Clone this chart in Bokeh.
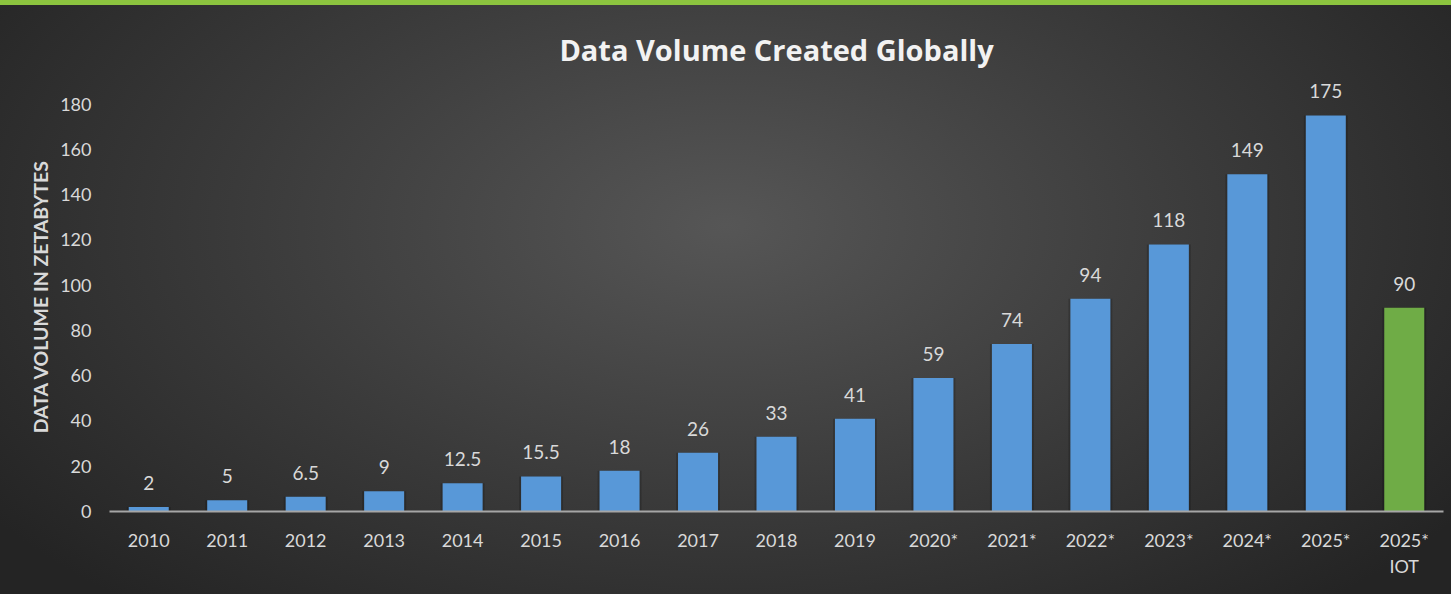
from bokeh.plotting import figure
from bokeh.models import ColumnDataSource, FixedTicker, Range1d, LabelSet
from bokeh.core.properties import value
from bokeh.embed import file_html
from bokeh.resources import INLINE

categories = ["2010", "2011", "2012", "2013", "2014", "2015", "2016", "2017", "2018",
              "2019", "2020*", "2021*", "2022*", "2023*", "2024*", "2025*", "2025*\nIOT"]
values = [2, 5, 6.5, 9, 12.5, 15.5, 18, 26, 33, 41, 59, 74, 94, 118, 149, 175, 90]
value_labels = ["2", "5", "6.5", "9", "12.5", "15.5", "18", "26", "33", "41", "59",
                "74", "94", "118", "149", "175", "90"]
series_colors = ["#5898d8"] * 16 + ["#6fac46"]
y_ticks = [0, 20, 40, 60, 80, 100, 120, 140, 160, 180]

src = ColumnDataSource(dict(cat=categories, val=values, lab=value_labels, col=series_colors))

p = figure(x_range=categories, y_range=Range1d(0, 190), width=1451, height=594,
           output_backend="svg", toolbar_location=None,
           min_border_left=109, min_border_right=8, min_border_top=81, min_border_bottom=83)

p.background_fill_color = None
p.border_fill_color = None
p.outline_line_color = None
p.styles = {
    "background-image": "linear-gradient(#8cc43f 0px, #8cc43f 5px, transparent 5px), "
                        "radial-gradient(ellipse 62% 85% at 50% 38%, #565656 0%, #3a3a3a 55%, #242424 100%)"
}

p.title.text = "Data Volume Created Globally"
p.title.align = "center"
p.title.text_font = "Open Sans"
p.title.text_font_size = "29px"
p.title.text_font_style = "bold"
p.title.text_color = "#f2f2f2"
p.title.standoff = 26

# subtle shadow behind bars
p.vbar(x="cat", top="val", width=0.56, source=src, fill_color="#000000", fill_alpha=0.18, line_color=None)
p.vbar(x="cat", top="val", width=0.51, source=src, fill_color="col", line_color=None)

labels = LabelSet(x="cat", y="val", text="lab", source=src, text_align="center",
                  text_baseline="bottom", y_offset=17, text_font=value("Lato"),
                  text_font_size=value("19px"), text_color=value("#d9d9d9"))
p.add_layout(labels)

p.xgrid.grid_line_color = None
p.ygrid.grid_line_color = None

p.xaxis.axis_line_color = "#a6a6a6"
p.xaxis.axis_line_width = 2
p.xaxis.major_tick_line_color = None
p.xaxis.minor_tick_line_color = None
p.xaxis.major_label_standoff = 11
p.xaxis.major_label_text_font = "Lato"
p.xaxis.major_label_text_font_size = "18px"
p.xaxis.major_label_text_color = "#d9d9d9"

p.yaxis.ticker = FixedTicker(ticks=y_ticks)
p.yaxis.axis_line_color = None
p.yaxis.major_tick_line_color = None
p.yaxis.minor_tick_line_color = None
p.yaxis.major_label_standoff = 12
p.yaxis.major_label_text_font = "Lato"
p.yaxis.major_label_text_font_size = "18px"
p.yaxis.major_label_text_color = "#d9d9d9"
p.yaxis.axis_label = "DATA VOLUME IN ZETABYTES"
p.yaxis.axis_label_text_font = "Lato"
p.yaxis.axis_label_text_font_size = "19.5px"
p.yaxis.axis_label_text_font_style = "bold"
p.yaxis.axis_label_text_color = "#d9d9d9"
p.yaxis.axis_label_standoff = 5

open("out.html", "w").write(file_html(p, INLINE))
